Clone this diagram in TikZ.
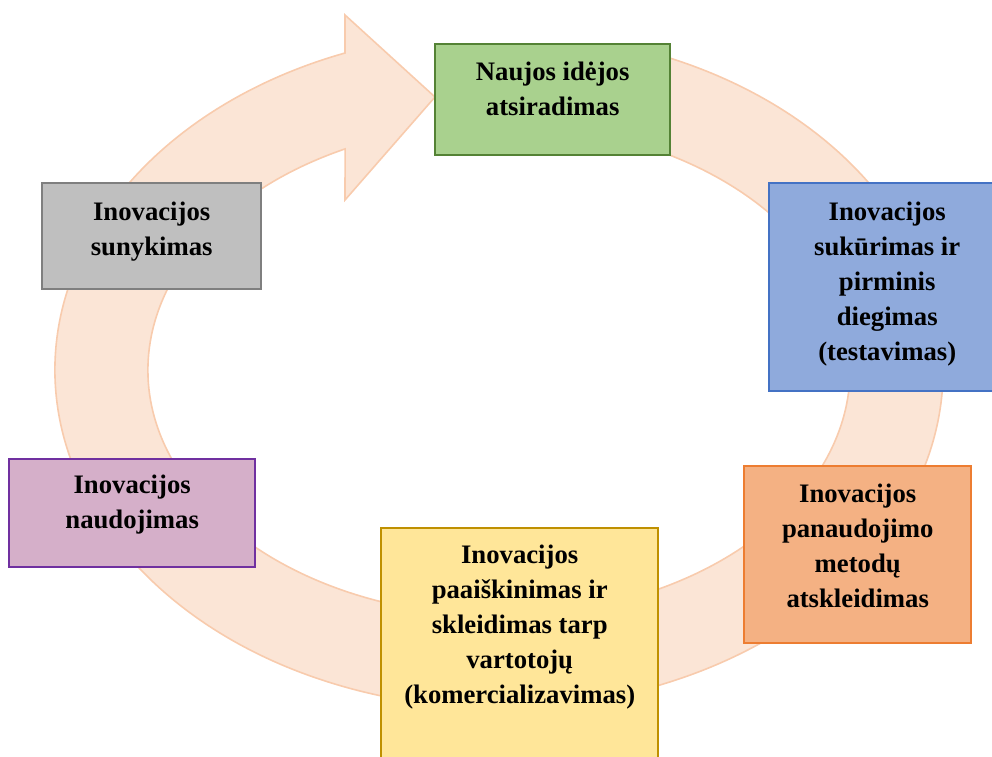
\documentclass[tikz,border=0pt]{standalone}
\usepackage{fontspec}
\setmainfont{Liberation Serif}
\definecolor{ringfill}{HTML}{FBE5D6}
\definecolor{ringline}{HTML}{F8CBAD}
\definecolor{gfill}{HTML}{A9D18E}
\definecolor{gline}{HTML}{548235}
\definecolor{grfill}{HTML}{BFBFBF}
\definecolor{grline}{HTML}{7F7F7F}
\definecolor{bfill}{HTML}{8FAADC}
\definecolor{bline}{HTML}{4472C4}
\definecolor{pfill}{HTML}{D5AFC9}
\definecolor{pline}{HTML}{7030A0}
\definecolor{yfill}{HTML}{FFE699}
\definecolor{yline}{HTML}{BF9000}
\definecolor{ofill}{HTML}{F4B183}
\definecolor{oline}{HTML}{ED7D31}
\begin{document}
\begin{tikzpicture}[x=1pt,y=-1pt,
  box/.style={draw, line width=2.4pt, anchor=north west, inner sep=0pt},
  lbl/.style={anchor=north, align=center, inner sep=0pt, text=black,
    font=\fontsize{26.7}{35}\selectfont\bfseries},
  ringstyle/.style={fill=ringfill, draw=ringline, line width=1.6pt, line join=miter}]
\useasboundingbox (0,0) rectangle (992,756);
% circular arrow
\coordinate (c) at (499,370);
\coordinate (headtop) at (345,15);
\coordinate (headtip) at (435,97);
\coordinate (headbot) at (345,200);
\draw[ringstyle] (c) ++(-69.4:444 and 338)
  arc[start angle=-69.4, end angle=249.7, x radius=444, y radius=338]
  -- (headtop) -- (headtip) -- (headbot) -- (345.1,148.9)
  arc[start angle=244, end angle=-64.5, x radius=351, y radius=246] -- cycle;
% boxes
\node[box, fill=gfill, draw=gline, minimum width=235pt, minimum height=111pt] (g) at (434,43) {};
\node[box, fill=grfill, draw=grline, minimum width=219pt, minimum height=106pt] (gr) at (41,182) {};
\node[box, fill=bfill, draw=bline, minimum width=236pt, minimum height=208pt] (b) at (768,182) {};
\node[box, fill=pfill, draw=pline, minimum width=246pt, minimum height=108pt] (p) at (8,458) {};
\node[box, fill=yfill, draw=yline, minimum width=277pt, minimum height=260pt] (y) at (380,527) {};
\node[box, fill=ofill, draw=oline, minimum width=227pt, minimum height=177pt] (o) at (743,465) {};
% texts
\node[lbl] (gt) at ([yshift=-12.5pt]g.north) {\strut Naujos idėjos\\atsiradimas};
\node[lbl] (grt) at ([yshift=-13.5pt]gr.north) {\strut Inovacijos\\sunykimas};
\node[lbl] (bt) at ([yshift=-13.5pt]b.north) {\strut Inovacijos\\sukūrimas ir\\pirminis\\diegimas\\(testavimas)};
\node[lbl] (pt) at ([yshift=-10.5pt]p.north) {\strut Inovacijos\\naudojimas};
\node[lbl] (yt) at ([yshift=-11.5pt]y.north) {\strut Inovacijos\\paaiškinimas ir\\skleidimas tarp\\vartotojų\\(komercializavimas)};
\node[lbl] (ot) at ([yshift=-12.5pt]o.north) {\strut Inovacijos\\panaudojimo\\metodų\\atskleidimas};
\end{tikzpicture}
\end{document}
